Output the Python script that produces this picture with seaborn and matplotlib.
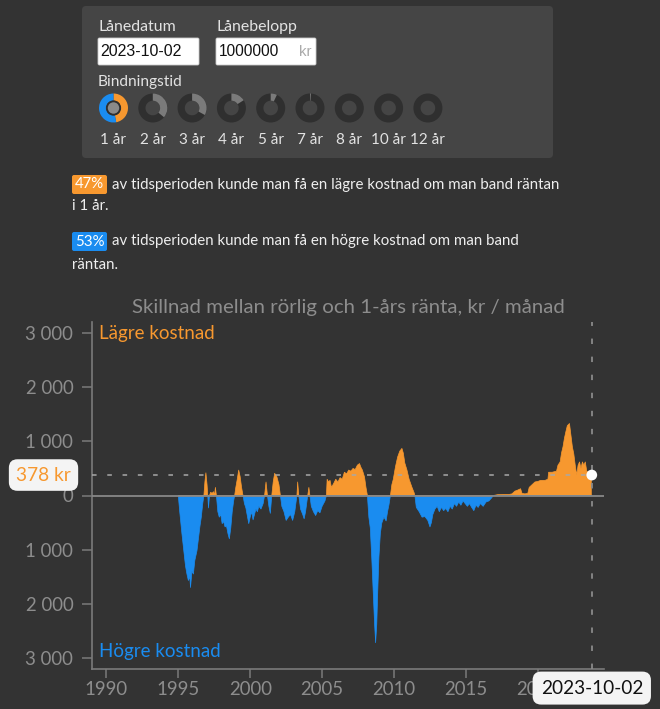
import numpy as np
import matplotlib
matplotlib.use("Agg")
import matplotlib.pyplot as plt
import seaborn as sns
from matplotlib.patches import FancyBboxPatch, Wedge, Circle

# ---------------- data ----------------
dates = [1995.0, 1995.1, 1995.25, 1995.4, 1995.5, 1995.6, 1995.7, 1995.8, 1995.85, 1995.95,
         1996.05, 1996.15, 1996.3, 1996.4, 1996.5, 1996.6, 1996.7, 1996.78, 1996.85, 1996.92,
         1997.0, 1997.05, 1997.1, 1997.17, 1997.25, 1997.35, 1997.45, 1997.52, 1997.58, 1997.65,
         1997.75, 1997.85, 1997.95, 1998.05, 1998.15, 1998.25, 1998.35, 1998.45, 1998.55, 1998.65,
         1998.75, 1998.85, 1998.92, 1999.0, 1999.1, 1999.2, 1999.3, 1999.4, 1999.5, 1999.6,
         1999.7, 1999.8, 1999.9, 2000.0, 2000.1, 2000.2, 2000.3, 2000.4, 2000.5, 2000.6,
         2000.75, 2000.9, 2001.0, 2001.1, 2001.2, 2001.3, 2001.4, 2001.5, 2001.6, 2001.7,
         2001.85, 2002.0, 2002.1, 2002.2, 2002.35, 2002.5, 2002.65, 2002.8, 2002.95, 2003.1,
         2003.25, 2003.3, 2003.38, 2003.5, 2003.65, 2003.75, 2003.85, 2004.0, 2004.08, 2004.15,
         2004.25, 2004.4, 2004.55, 2004.7, 2004.85, 2005.0, 2005.2, 2005.3, 2005.35, 2005.45,
         2005.55, 2005.65, 2005.8, 2005.95, 2006.1, 2006.25, 2006.4, 2006.55, 2006.7, 2006.85,
         2007.0, 2007.15, 2007.3, 2007.45, 2007.6, 2007.7, 2007.8, 2007.95, 2008.05, 2008.15,
         2008.25, 2008.35, 2008.45, 2008.55, 2008.65, 2008.72, 2008.8, 2008.87, 2008.95, 2009.05,
         2009.15, 2009.3, 2009.45, 2009.55, 2009.65, 2009.75, 2009.85, 2009.95, 2010.1, 2010.25,
         2010.4, 2010.55, 2010.65, 2010.75, 2010.9, 2011.05, 2011.25, 2011.4, 2011.45, 2011.55,
         2011.75, 2011.95, 2012.15, 2012.35, 2012.5, 2012.6, 2012.7, 2012.85, 2013.0, 2013.15,
         2013.3, 2013.45, 2013.6, 2013.75, 2013.9, 2014.05, 2014.2, 2014.35, 2014.5, 2014.65,
         2014.8, 2014.95, 2015.1, 2015.25, 2015.4, 2015.55, 2015.7, 2015.85, 2016.0, 2016.2,
         2016.4, 2016.6, 2016.8, 2016.9, 2017.2, 2017.6, 2018.0, 2018.2, 2018.4, 2018.6,
         2018.8, 2018.9, 2019.1, 2019.3, 2019.4, 2019.6, 2019.8, 2020.0, 2020.2, 2020.5,
         2020.7, 2020.75, 2021.0, 2021.3, 2021.4, 2021.55, 2021.65, 2021.75, 2021.85, 2021.95,
         2022.05, 2022.2, 2022.3, 2022.4, 2022.5, 2022.6, 2022.7, 2022.8, 2022.9, 2023.0,
         2023.1, 2023.2, 2023.3, 2023.4, 2023.5, 2023.6, 2023.75]
values = [0, -300, -700, -1070, -1300, -1450, -1570, -1500, -1700, -1400,
          -1450, -1200, -1020, -800, -580, -400, -150, 0, 250, 420,
          200, 0, -230, 0, 60, 40, 70, 0, 150, 0,
          -300, -400, -350, -520, -480, -580, -560, -700, -800, -600,
          -300, -100, 0, 150, 300, 470, 350, 150, 0, -150,
          -230, -380, -520, -400, -300, -450, -350, -250, -300, -200,
          -250, -150, 0, 250, 0, -200, -330, 0, 250, 410,
          350, 200, 0, -200, -300, -460, -400, -350, -460, -300,
          0, 250, 0, -250, -350, -430, -300, 0, 150, 0,
          -200, -300, -370, -280, -320, -200, -100, 0, 300, 250,
          280, 150, 220, 300, 250, 330, 300, 430, 400, 470,
          450, 500, 480, 560, 590, 520, 470, 340, 150, 0,
          -400, -600, -1140, -1760, -2380, -2720, -2380, -1760, -1140, -700,
          -510, -400, -470, -300, -170, 0, 200, 300, 530, 710,
          820, 870, 780, 600, 470, 300, 150, 50, 0, -220,
          -300, -400, -390, -460, -580, -500, -350, -250, -200, -300,
          -220, -280, -240, -300, -200, -250, -150, -200, -120, -180,
          -100, -150, -200, -150, -220, -280, -180, -220, -150, -200,
          -120, -100, -40, 0, 15, 20, 20, 30, 80, 100,
          125, 40, 30, 40, 150, 200, 250, 260, 280, 280,
          300, 430, 430, 450, 560, 620, 790, 900, 1060, 1180,
          1290, 1330, 1120, 900, 770, 560, 380, 560, 620, 500,
          620, 560, 620, 450, 430, 400, 378]

y_ticks = [-3000, -2000, -1000, 0, 1000, 2000, 3000]
y_tick_labels = ["3 000", "2 000", "1 000", "0", "1 000", "2 000", "3 000"]
x_ticks = [1990, 1995, 2000, 2005, 2010, 2015, 2020]
x_tick_labels = ["1990", "1995", "2000", "2005", "2010", "2015", "2020"]

current_value = 378
current_date = 2023.75
current_date_label = "2023-10-02"

terms = ["1 år", "2 år", "3 år", "4 år", "5 år", "7 år", "8 år", "10 år", "12 år"]
term_shares = [0.47, 0.36, 0.33, 0.16, 0.07, 0.01, 0.0, 0.0, 0.0]
lower_share = 47
higher_share = 53
loan_date = "2023-10-02"
loan_amount = "1000000"

title = "Skillnad mellan rörlig och 1-års ränta, kr / månad"

# ---------------- style ----------------
BG = "#333333"
PANEL = "#454545"
ORANGE = "#f7982f"
BLUE = "#1a8cf0"
GRID = "#888888"
TXT = "#8d8d8d"

sns.set_theme(style="dark", rc={
    "figure.facecolor": BG, "axes.facecolor": BG, "savefig.facecolor": BG,
    "axes.edgecolor": "#7a7a7a", "xtick.color": "#7a7a7a", "ytick.color": "#7a7a7a",
    "text.color": TXT, "xtick.labelcolor": TXT, "ytick.labelcolor": TXT,
})
plt.rcParams["font.family"] = ["Lato", "DejaVu Sans"]

fig = plt.figure(figsize=(6.6, 7.09), dpi=100)

# ---------------- overlay (UI part, pixel coordinates) ----------------
ov = fig.add_axes([0, 0, 1, 1])
ov.set_xlim(0, 660)
ov.set_ylim(709, 0)
ov.axis("off")
ov.patch.set_alpha(0)

ov.add_patch(FancyBboxPatch((82, 6), 471, 152, boxstyle="round,pad=0,rounding_size=4",
                            fc=PANEL, ec="none"))
lab_col = "#e2e2e2"
ov.text(98, 27, "Lånedatum", color=lab_col, fontsize=11.4, va="center", ha="left")
ov.text(216, 27, "Lånebelopp", color=lab_col, fontsize=11.4, va="center", ha="left")
ov.add_patch(FancyBboxPatch((98, 38), 101, 27, boxstyle="round,pad=0,rounding_size=1.5",
                            fc="white", ec="#cccccc", lw=0.6))
ov.add_patch(FancyBboxPatch((216, 38), 100, 27, boxstyle="round,pad=0,rounding_size=1.5",
                            fc="white", ec="#cccccc", lw=0.6))
ov.text(100, 52, loan_date, color="#111111", fontsize=11.5, va="center", ha="left",
        family=["Liberation Sans", "DejaVu Sans"])
ov.text(219, 52, loan_amount, color="#111111", fontsize=11.2, va="center", ha="left",
        family=["Liberation Sans", "DejaVu Sans"])
ov.text(299, 52, "kr", color="#aaaaaa", fontsize=10.8, va="center", ha="left",
        family=["Liberation Sans", "DejaVu Sans"])
ov.text(98, 82, "Bindningstid", color=lab_col, fontsize=11.2, va="center", ha="left")

cx0, step, cy = 113.5, 39.3, 108
r_out, width = 14.5, 7.2
for i, (t, s) in enumerate(zip(terms, term_shares)):
    cx = cx0 + i * step
    if i == 0:
        ov.add_patch(Wedge((cx, cy), r_out, 270, 270 + 360 * s, width=width, fc=ORANGE, ec="none"))
        ov.add_patch(Wedge((cx, cy), r_out, 270 + 360 * s, 270 + 360, width=width, fc=BLUE, ec="none"))
        ov.add_patch(Circle((cx, cy), r_out - width + 0.3, fc="#2f2f2f", ec="none"))
        ov.add_patch(Circle((cx, cy), r_out - width - 1.6, fc="#8a8a8a", ec="none"))
    else:
        ov.add_patch(Wedge((cx, cy), r_out, 0, 360, width=width, fc="#2f2f2f", ec="none"))
        if s > 0:
            ov.add_patch(Wedge((cx, cy), r_out, 270, 270 + 360 * s, width=width,
                               fc="#7b7b7b", ec="none"))
    ov.text(cx, 140, t, color=lab_col, fontsize=11, ha="center", va="center")

# sentences
sent_col = "#eeeeee"
ov.add_patch(FancyBboxPatch((72, 175), 35, 19, boxstyle="round,pad=0,rounding_size=2",
                            fc=ORANGE, ec="none"))
ov.text(89.5, 184.5, f"{lower_share}%", color="white", fontsize=10.8, ha="center", va="center")
ov.text(112, 184.5, "av tidsperioden kunde man få en lägre kostnad om man band räntan",
        color=sent_col, fontsize=10.8, ha="left", va="center")
ov.text(72, 206, "i 1 år.", color=sent_col, fontsize=10.8, ha="left", va="center")
ov.add_patch(FancyBboxPatch((72, 232), 35, 19, boxstyle="round,pad=0,rounding_size=2",
                            fc=BLUE, ec="none"))
ov.text(89.5, 241.5, f"{higher_share}%", color="white", fontsize=10.8, ha="center", va="center")
ov.text(112, 241.5, "av tidsperioden kunde man få en högre kostnad om man band",
        color=sent_col, fontsize=10.8, ha="left", va="center")
ov.text(72, 265, "räntan.", color=sent_col, fontsize=10.8, ha="left", va="center")

fig.text(348 / 660, 1 - 308 / 709, title, color=TXT, fontsize=14.7, ha="center", va="center")

# ---------------- chart ----------------
ax = fig.add_axes([92 / 660, 40 / 709, 512 / 660, 347 / 709])
ax.set_facecolor("none")
x = np.array(dates, dtype=float)
y = np.array(values, dtype=float)

ax.fill_between(x, y, 0, where=y >= 0, interpolate=True, color=ORANGE, lw=0, zorder=2)
ax.fill_between(x, y, 0, where=y <= 0, interpolate=True, color=BLUE, lw=0, zorder=2)
sns.lineplot(x=x, y=np.where(y > 0, y, 0), color=ORANGE, lw=0.5, ax=ax, zorder=2)
sns.lineplot(x=x, y=np.where(y < 0, y, 0), color=BLUE, lw=0.5, ax=ax, zorder=2)

ax.axhline(0, color=GRID, lw=1.3, zorder=3)
ax.plot([1989.0, current_date], [current_value, current_value],
        color="#a8a8a8", lw=1.1, ls=(0, (3, 7)), zorder=4)
ax.axvline(current_date, color="#8a8a8a", lw=1.3, ls=(0, (3, 7)), zorder=4)
ax.scatter([current_date], [current_value], s=60, color="white", zorder=6, edgecolors="none")

ax.set_xlim(1989.0, 2024.6)
ax.set_ylim(-3205, 3205)
ax.set_xticks(x_ticks)
ax.set_xticklabels(x_tick_labels)
ax.set_yticks(y_ticks)
ax.set_yticklabels(y_tick_labels)
ax.set_xlabel("")
ax.set_ylabel("")
for side in ["top", "right"]:
    ax.spines[side].set_visible(False)
for side in ["left", "bottom"]:
    ax.spines[side].set_color("#7a7a7a")
    ax.spines[side].set_linewidth(1.2)
ax.tick_params(axis="y", direction="out", length=7, width=1.1, pad=6.5, labelsize=13.4,
               left=True, colors="#7a7a7a", labelcolor=TXT)
ax.tick_params(axis="x", direction="out", length=6.5, width=1.1, pad=2.2, labelsize=13.4,
               bottom=True, colors="#7a7a7a", labelcolor=TXT)
ax.grid(False)

ax.text(0.0137, 0.968, "Lägre kostnad", transform=ax.transAxes, color=ORANGE,
        fontsize=13.5, ha="left", va="center")
ax.text(0.0137, 0.049, "Högre kostnad", transform=ax.transAxes, color=BLUE,
        fontsize=13.5, ha="left", va="center")

ax.annotate(f"{current_value} kr", xy=(-0.0947, current_value),
            xycoords=("axes fraction", "data"), ha="center", va="center",
            color=ORANGE, fontsize=13.8, annotation_clip=False, zorder=10,
            bbox=dict(boxstyle="round,pad=0.38,rounding_size=0.45", fc="#f4f4f4", ec="none"))
ax.annotate(current_date_label, xy=(current_date, -0.055),
            xycoords=("data", "axes fraction"), ha="center", va="center",
            color="#111111", fontsize=13.7, annotation_clip=False, zorder=10,
            bbox=dict(boxstyle="round,pad=0.42,rounding_size=0.45", fc="#f4f4f4", ec="none"))

fig.savefig("out.png", dpi=100, facecolor=BG)
